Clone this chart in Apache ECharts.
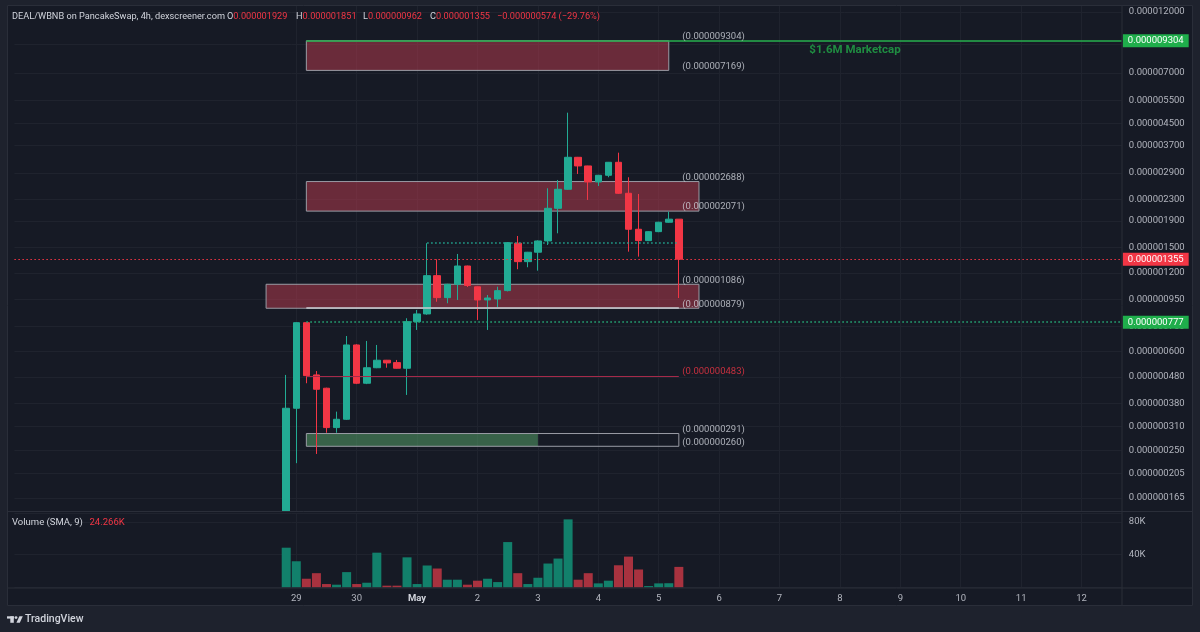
<!DOCTYPE html>
<html>
<head>
<meta charset="utf-8">
<script src="https://cdn.jsdelivr.net/npm/echarts@6/dist/echarts.min.js"></script>
<style>
html,body{margin:0;padding:0;background:#1e222d;}
#chart{width:1200px;height:632px;}
</style>
</head>
<body>
<div id="chart"></div>
<script>
// ---------- categories (4h slots) ----------
const SLOT_START = '2025-04-24 08:00';
const SLOT_COUNT = 111;

// ---------- candles (first candle at 2025-04-28 20:00, 4h each) ----------
const CANDLE_START = '2025-04-28 20:00';
const candleOpen  = [147e-9, 363.7e-9, 774e-9, 488e-9, 434e-9, 306.6e-9, 330e-9, 635.7e-9, 453.5e-9, 520e-9,
                     555.6e-9, 544e-9, 517.7e-9, 780.9e-9, 835.8e-9, 1172e-9, 965e-9, 1086e-9, 1276e-9, 1062e-9,
                     946e-9, 954e-9, 1027e-9, 1560e-9, 1326e-9, 1441e-9, 1592e-9, 2123e-9, 2511e-9, 3330e-9,
                     3085e-9, 2679e-9, 2841e-9, 3186e-9, 2424e-9, 1764.5e-9, 1596e-9, 1728e-9, 1877e-9, 1929e-9];
const candleHigh  = [488e-9, 777e-9, 777e-9, 505e-9, 436e-9, 353e-9, 688e-9, 640e-9, 658.7e-9, 635.7e-9,
                     557e-9, 557e-9, 804.7e-9, 866e-9, 1560e-9, 1354e-9, 1090e-9, 1419e-9, 1280e-9, 1065e-9,
                     988e-9, 1063e-9, 1575e-9, 1663e-9, 1445e-9, 1600e-9, 2533e-9, 2726e-9, 4936e-9, 3340e-9,
                     3090e-9, 2850e-9, 3195e-9, 3468e-9, 2792e-9, 2409e-9, 1735e-9, 1885e-9, 2061e-9, 1929e-9];
const candleLow   = [147e-9, 224e-9, 453.5e-9, 243e-9, 293e-9, 293e-9, 328e-9, 450e-9, 450e-9, 518e-9,
                     520e-9, 516e-9, 409e-9, 725.8e-9, 830e-9, 931e-9, 918.5e-9, 945.7e-9, 1060e-9, 792.7e-9,
                     725.8e-9, 886.7e-9, 1020e-9, 1240e-9, 1262e-9, 1224.6e-9, 1536e-9, 1703e-9, 2500e-9, 2874e-9,
                     2285e-9, 2585e-9, 2792e-9, 2410e-9, 1448e-9, 1386e-9, 1590e-9, 1720e-9, 1870e-9, 962e-9];
const candleClose = [363.7e-9, 774e-9, 485e-9, 430e-9, 306.6e-9, 330e-9, 635.7e-9, 453.5e-9, 520e-9, 555.6e-9,
                     542.5e-9, 517.7e-9, 780.9e-9, 835.8e-9, 1172e-9, 965e-9, 1086e-9, 1276e-9, 1075e-9, 945.7e-9,
                     962e-9, 1026.6e-9, 1568e-9, 1326e-9, 1440.6e-9, 1591.5e-9, 2123e-9, 2511e-9, 3330e-9, 3085e-9,
                     2679e-9, 2841e-9, 3186e-9, 2424e-9, 1764.5e-9, 1596e-9, 1727.6e-9, 1877e-9, 1929e-9, 1355e-9];
const volume      = [48500, 31900, 10500, 17300, 4000, 3200, 18600, 4000, 5600, 42400,
                     2000, 2000, 36700, 4000, 26700, 23000, 9300, 9300, 3200, 8100,
                     10500, 6400, 55400, 17300, 4000, 11700, 29100, 35200, 83200, 9300,
                     17300, 4800, 8100, 27000, 37600, 21800, 1500, 4800, 5000, 25000];

// ---------- price axis tick labels ----------
const priceTicks = [12000e-9, 9000e-9, 7000e-9, 5500e-9, 4500e-9, 3700e-9, 2900e-9, 2300e-9, 1900e-9, 1500e-9,
                    1200e-9, 950e-9, 750e-9, 600e-9, 480e-9, 380e-9, 310e-9, 250e-9, 205e-9, 165e-9];
const volumeTickStep = 40000;

// ---------- drawings ----------
const supplyZones = [ // [from, to, upper, lower]
  ['2025-04-29 04:00', '2025-05-05 04:00', 9304e-9, 7169e-9],
  ['2025-04-29 04:00', '2025-05-05 16:00', 2688e-9, 2071e-9],
  ['2025-04-28 12:00', '2025-05-05 16:00', 1086e-9, 879e-9]
];
const demandZone = ['2025-04-29 04:00', '2025-05-03 00:00', 291e-9, 260e-9];
const drawingStart = '2025-04-29 04:00';
const drawingEnd = '2025-05-05 08:00';
const chartEnd = '2025-05-12 16:00';
const levelLabels = [9304e-9, 7169e-9, 2688e-9, 2071e-9, 1086e-9, 879e-9, 291e-9, 260e-9];
const supportLine = 879e-9;
const redLevel = 483e-9;
const marketcapLevel = 9304e-9;
const marketcapText = '$1.6M Marketcap';
const marketcapTime = '2025-05-08 04:00';
const breakoutLevel = 777e-9;
const rangeHigh = ['2025-05-01 04:00', 1560e-9];
const lastPrice = 1355e-9;

// ---------- texts ----------
const headerTitle = 'DEAL/WBNB on PancakeSwap, 4h, dexscreener.com';
const headerOHLC = [['O', '0.000001929'], ['H', '0.000001851'], ['L', '0.000000962'], ['C', '0.000001355']];
const headerChange = '\u22120.000000574 (\u221229.76%)';
const volumeTitle = 'Volume (SMA, 9)';
const volumeSMA = '24.266K';
const monthNames = ['Jan','Feb','Mar','Apr','May','Jun','Jul','Aug','Sep','Oct','Nov','Dec'];

// ---------- styles ----------
const FONT = 'Roboto, "Noto Sans", sans-serif';
const UP = '#22ab94', DOWN = '#f23645';
const VOL_UP = '#12806b', VOL_DOWN = '#a8323f';
const GRID_COLOR = '#1f232e';
const AXIS_TEXT = '#b2b5be';
const LABEL_GREEN = '#1fae4b';

// ---------- build ----------
function pad(n){ return (n < 10 ? '0' : '') + n; }
const categories = [];
{
  const p = SLOT_START.split(/[- :]/).map(Number);
  const t0 = Date.UTC(p[0], p[1]-1, p[2], p[3], p[4]);
  for (let i = 0; i < SLOT_COUNT; i++) {
    const d = new Date(t0 + i * 4 * 3600000);
    categories.push(d.getUTCFullYear() + '-' + pad(d.getUTCMonth()+1) + '-' + pad(d.getUTCDate()) + ' ' + pad(d.getUTCHours()) + ':00');
  }
}
const firstIdx = categories.indexOf(CANDLE_START);
const candleData = categories.map(() => '-');
const closeData = categories.map(() => '-');
const volumeData = categories.map(() => '-');
for (let i = 0; i < candleOpen.length; i++) {
  candleData[firstIdx + i] = [candleOpen[i], candleClose[i], candleLow[i], candleHigh[i]];
  closeData[firstIdx + i] = candleClose[i];
  volumeData[firstIdx + i] = { value: volume[i], itemStyle: { color: candleClose[i] >= candleOpen[i] ? VOL_UP : VOL_DOWN } };
}
const dayTick = (idx, val) => idx >= firstIdx && val.slice(11) === '00:00';
const dayLabel = (val) => {
  const day = +val.slice(8, 10);
  return day === 1 ? '{m|' + monthNames[+val.slice(5, 7) - 1] + '}' : String(day);
};

const gridLines = priceTicks.map(v => ({
  yAxis: v,
  lineStyle: { color: GRID_COLOR, width: 1, type: 'solid' },
  label: { show: true, position: 'end', distance: 7, formatter: v.toFixed(9), color: AXIS_TEXT, fontSize: 9.5, fontFamily: FONT }
}));

function seg(from, to, value, lineStyle, label) {
  return [{ coord: [from, value], lineStyle: lineStyle, label: label || { show: false } }, { coord: [to, value] }];
}
const priceTag = (v, bg) => ({ show: true, position: 'end', distance: 1, formatter: v.toFixed(9), color: '#ffffff',
  backgroundColor: bg, padding: [2, 5, 1, 5], fontSize: 9.5, fontFamily: FONT });

const drawLines = [
  seg(categories[0], chartEnd, lastPrice, { color: DOWN, width: 1, type: [1.5, 2.5] }, priceTag(lastPrice, DOWN)),
  seg(drawingStart, chartEnd, breakoutLevel, { color: '#26b07a', width: 1.5, type: [1.5, 2.5] }, priceTag(breakoutLevel, LABEL_GREEN)),
  seg(drawingStart, chartEnd, marketcapLevel, { color: '#27b04e', width: 1.5, type: 'solid' }, priceTag(marketcapLevel, LABEL_GREEN)),
  seg(rangeHigh[0], drawingEnd, rangeHigh[1], { color: '#22ab94', width: 1.5, type: [1.5, 2.5] }),
  seg(drawingStart, drawingEnd, supportLine, { color: '#c9cbd1', width: 1.5, type: 'solid' }),
  seg(drawingStart, drawingEnd, redLevel, { color: '#a52a4a', width: 1, type: 'solid' })
];

const zoneStyle = { color: 'rgba(190,60,80,0.5)', borderColor: '#9a9ca5', borderWidth: 1 };
const areas = supplyZones.map(z => [{ coord: [z[0], z[2]], itemStyle: zoneStyle }, { coord: [z[1], z[3]] }]);
areas.push([{ coord: [demandZone[0], demandZone[2]], itemStyle: { color: 'rgba(90,170,110,0.5)', borderWidth: 0 } }, { coord: [demandZone[1], demandZone[3]] }]);
areas.push([{ coord: [demandZone[0], demandZone[2]], itemStyle: { color: 'rgba(0,0,0,0)', borderColor: '#9a9ca5', borderWidth: 1 } }, { coord: [drawingEnd, demandZone[3]] }]);

const annotations = levelLabels.map(v => ({
  value: [drawingEnd, v],
  label: { show: true, position: 'right', distance: 3, offset: [0, -4], formatter: '(' + v.toFixed(9) + ')', color: '#d1d4dc', fontSize: 9.5, fontFamily: FONT }
}));
annotations.push({
  value: [drawingEnd, redLevel],
  label: { show: true, position: 'right', distance: 3, offset: [0, -4], formatter: '(' + redLevel.toFixed(9) + ')', color: DOWN, fontSize: 9.5, fontFamily: FONT }
});
annotations.push({
  value: [marketcapTime, marketcapLevel],
  label: { show: true, position: 'inside', offset: [5, 9], formatter: marketcapText, color: '#22a948', fontSize: 11.5, fontWeight: 'bold', fontFamily: FONT }
});

// header pieces, laid out left to right
const headerX = [12, 227, 296, 363, 430, 497];
const headerGraphics = [
  { type: 'text', left: headerX[0], top: 12.5, z: 60, silent: true,
    style: { text: headerTitle, fill: '#d1d4dc', fontSize: 9.2, fontFamily: FONT } }
];
headerOHLC.forEach((p, i) => headerGraphics.push({
  type: 'text', left: headerX[i + 1], top: 12.5, z: 60, silent: true,
  style: { text: '{t|' + p[0] + '}{r|' + p[1] + '}', rich: {
    t: { fill: '#d1d4dc', fontSize: 9.2, fontFamily: FONT },
    r: { fill: DOWN, fontSize: 9.2, fontFamily: FONT } } }
}));
headerGraphics.push({ type: 'text', left: headerX[5], top: 12.5, z: 60, silent: true,
  style: { text: headerChange, fill: DOWN, fontSize: 9.2, fontFamily: FONT } });

const GL = 14.4, GR = 1200 - 1121.8;
const chart = echarts.init(document.getElementById('chart'), null, { renderer: 'canvas' });
chart.setOption({
  backgroundColor: '#161a25',
  animation: false,
  textStyle: { fontFamily: FONT },
  grid: [
    { left: GL, right: GR, top: 6, height: 505, outerBoundsMode: 'none', containLabel: false },
    { left: GL, right: GR, top: 513, height: 74.3, outerBoundsMode: 'none', containLabel: false }
  ],
  xAxis: [
    { type: 'category', gridIndex: 0, data: categories, boundaryGap: false,
      axisLine: { show: false }, axisTick: { show: false }, axisLabel: { show: false },
      splitLine: { show: true, interval: dayTick, lineStyle: { color: GRID_COLOR, width: 1 } } },
    { type: 'category', gridIndex: 1, data: categories, boundaryGap: false,
      axisLine: { show: false }, axisTick: { show: false },
      axisLabel: { show: true, interval: dayTick, formatter: dayLabel, color: AXIS_TEXT, fontSize: 9.5, margin: 6, fontFamily: FONT,
        rich: { m: { fontWeight: 'bold', color: '#d1d4dc', fontSize: 9.5, fontFamily: FONT } } },
      splitLine: { show: true, interval: dayTick, lineStyle: { color: GRID_COLOR, width: 1 } } }
  ],
  yAxis: [
    { type: 'log', logBase: 10, gridIndex: 0, min: 1.469e-7, max: 1.2652e-5, position: 'right',
      axisLine: { show: false }, axisTick: { show: false }, axisLabel: { show: false }, splitLine: { show: false } },
    { type: 'value', gridIndex: 1, min: 0, max: 91000, interval: volumeTickStep, position: 'right',
      axisLine: { show: false }, axisTick: { show: false },
      axisLabel: { show: true, margin: 7, color: AXIS_TEXT, fontSize: 9.5, fontFamily: FONT,
        formatter: v => (v > 0 && v % volumeTickStep === 0) ? (v / 1000) + 'K' : '' },
      splitLine: { show: true, lineStyle: { color: GRID_COLOR, width: 1 } } }
  ],
  series: [
    { name: 'grid', type: 'line', xAxisIndex: 0, yAxisIndex: 0, data: closeData, silent: true,
      symbol: 'none', showSymbol: false, z: 0, lineStyle: { opacity: 0, width: 0 },
      markLine: { silent: true, z: 0, precision: 20, symbol: ['none', 'none'], animation: false, data: gridLines } },
    { name: 'price', type: 'candlestick', xAxisIndex: 0, yAxisIndex: 0, data: candleData, barWidth: 7, z: 2, silent: true,
      itemStyle: { color: UP, color0: DOWN, borderColor: UP, borderColor0: DOWN, borderWidth: 1 },
      markArea: { silent: true, z: 1, label: { show: false }, data: areas },
      markLine: { silent: true, z: 5, precision: 20, symbol: ['none', 'none'], animation: false, data: drawLines } },
    { name: 'labels', type: 'scatter', xAxisIndex: 0, yAxisIndex: 0, data: annotations, symbolSize: 1, z: 6, silent: true,
      itemStyle: { color: 'rgba(0,0,0,0)' } },
    { name: 'volume', type: 'bar', xAxisIndex: 1, yAxisIndex: 1, data: volumeData, barWidth: 9, silent: true, z: 2 }
  ],
  graphic: [
    { type: 'rect', shape: { x: 0, y: 0, width: 7, height: 632 }, style: { fill: '#1e222d' }, z: 50, silent: true },
    { type: 'rect', shape: { x: 1193, y: 0, width: 7, height: 632 }, style: { fill: '#1e222d' }, z: 50, silent: true },
    { type: 'rect', shape: { x: 0, y: 0, width: 1200, height: 5 }, style: { fill: '#1e222d' }, z: 50, silent: true },
    { type: 'rect', shape: { x: 0, y: 606, width: 1200, height: 26 }, style: { fill: '#1e222d' }, z: 50, silent: true },
    { type: 'rect', shape: { x: 7.5, y: 5.5, width: 1185, height: 600 }, style: { fill: 'none', stroke: '#2a2e39', lineWidth: 1 }, z: 51, silent: true },
    { type: 'line', shape: { x1: 1122, y1: 5.5, x2: 1122, y2: 605.5 }, style: { stroke: '#2a2e39', lineWidth: 1 }, z: 51, silent: true },
    { type: 'line', shape: { x1: 7.5, y1: 511.5, x2: 1192.5, y2: 511.5 }, style: { stroke: '#2a2e39', lineWidth: 1 }, z: 51, silent: true },
    { type: 'line', shape: { x1: 7.5, y1: 588, x2: 1192.5, y2: 588 }, style: { stroke: '#2a2e39', lineWidth: 1 }, z: 51, silent: true },
    ...headerGraphics,
    { type: 'text', left: 12, top: 516.5, z: 60, silent: true,
      style: { text: '{t|' + volumeTitle + '}  {r|' + volumeSMA + '}', rich: {
        t: { fill: '#d1d4dc', fontSize: 9.5, fontFamily: FONT },
        r: { fill: DOWN, fontSize: 9.5, fontFamily: FONT } } } },
    // TradingView logo
    { type: 'rect', shape: { x: 7, y: 616.3, width: 6.8, height: 2.3 }, style: { fill: '#d1d4dc' }, z: 60, silent: true },
    { type: 'rect', shape: { x: 10.3, y: 616.3, width: 3.5, height: 6.5 }, style: { fill: '#d1d4dc' }, z: 60, silent: true },
    { type: 'circle', shape: { cx: 16, cy: 617.6, r: 1.4 }, style: { fill: '#d1d4dc' }, z: 60, silent: true },
    { type: 'polygon', shape: { points: [[16.4, 622.8], [19.4, 616.3], [22.8, 616.3], [19.8, 622.8]] }, style: { fill: '#d1d4dc' }, z: 60, silent: true },
    { type: 'text', left: 25, top: 613.5, z: 60, silent: true,
      style: { text: 'TradingView', fill: '#d1d4dc', fontSize: 10.5, fontWeight: 500, fontFamily: FONT } }
  ]
});
</script>
</body>
</html>
